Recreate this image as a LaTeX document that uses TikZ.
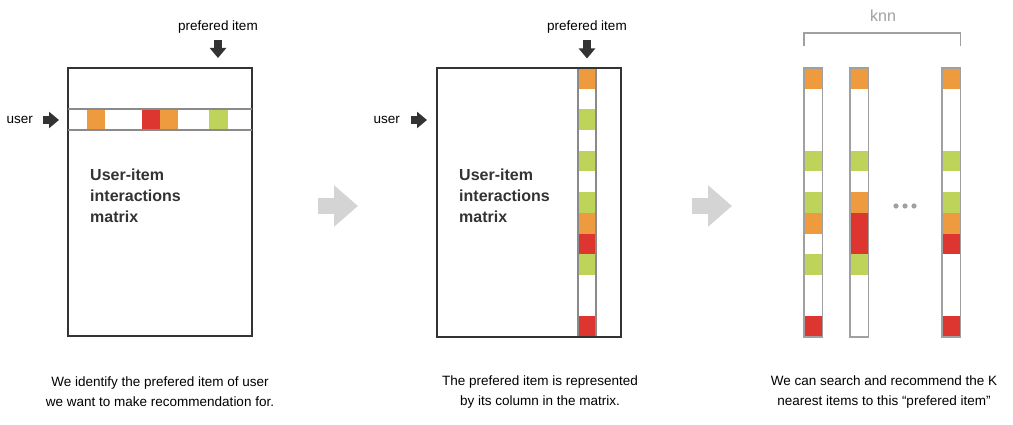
\documentclass[tikz,border=0pt]{standalone}
\usepackage{fontspec}
\setmainfont{Liberation Sans}
\usetikzlibrary{arrows.meta}
\definecolor{darkline}{HTML}{333333}
\definecolor{midline}{HTML}{8A8A8A}
\definecolor{lightline}{HTML}{A0A0A0}
\definecolor{bigarrowgray}{HTML}{D4D4D4}
\definecolor{cellO}{HTML}{EE9A3E}
\definecolor{cellR}{HTML}{DD3530}
\definecolor{cellG}{HTML}{BDD35A}
\definecolor{cellW}{HTML}{FFFFFF}
\tikzset{
  lbl/.style={inner sep=0pt, text=black, font=\fontsize{13.5}{16}\selectfont},
  caption/.style={inner sep=0pt, align=center, text=black,
    font=\fontsize{13.5}{20}\selectfont},
  mtext/.style={inner sep=0pt, align=left, text=darkline,
    font=\bfseries\fontsize{16}{21}\selectfont},
  darkarrow/.style={draw=darkline, line width=8pt,
    -{Triangle[width=16pt, length=10pt]}, color=darkline},
  bigarrow/.style={draw=bigarrowgray, line width=16pt,
    -{Triangle[width=40pt, length=24pt]}, color=bigarrowgray},
  matrixbox/.style={draw=darkline, line width=2pt, inner sep=0pt,
    minimum width=184pt, minimum height=268pt},
}
\begin{document}
\begin{tikzpicture}[x=1pt, y=-1pt]
\useasboundingbox[fill=white] (0,0) rectangle (1013,425);

%panel 1: the user row
\node[matrixbox](matrix1) at (160,202){};
\draw[midline, line width=1.5pt](68,109) -- (252,109);
\draw[midline, line width=1.5pt](68,130) -- (252,130);
\fill[cellO](87,110) rectangle (105,129);
\fill[cellR](142,110) rectangle (160,129);
\fill[cellO](160,110) rectangle (178,129);
\fill[cellG](209,110) rectangle (228,129);
\node[mtext, anchor=north west](mtext1) at (90,169){User-item\\interactions\\matrix};
\node[lbl](pref1) at (218,27){prefered item};
\node[lbl, anchor=east](user1) at (33,120){user};
\draw[darkarrow, shorten <=7pt, shorten >=9pt](pref1.south) -- (pref1 |- matrix1.north);
\draw[darkarrow, shorten <=10pt, shorten >=8pt](user1.east) -- (user1 -| matrix1.west);

\draw[bigarrow](318,206) -- (358,206);

%panel 2: the item column
\node[matrixbox](matrix2) at (529,202.5){};
\foreach \c [count=\i from 0] in {O,W,G,W,G,W,G,O,R,G,W,W,R}
  \fill[cell\c](578,68+20.69*\i) rectangle ++(18,20.69);
\draw[midline, line width=1.5pt](578,68) rectangle (596,337);
\node[matrixbox, fill=none](matrix2b) at (529,202.5){};
\node[mtext, anchor=north west](mtext2) at (459,169){User-item\\interactions\\matrix};
\node[lbl](pref2) at (587,27){prefered item};
\node[lbl, anchor=east](user2) at (400,120){user};
\draw[darkarrow, shorten <=7pt, shorten >=9pt](pref2.south) -- (pref2 |- matrix2.north);
\draw[darkarrow, shorten <=11pt, shorten >=9pt](user2.east) -- (user2 -| matrix2.west);

\draw[bigarrow](692,206) -- (732,206);

%panel 3: nearest columns
\foreach \x/\cells in {804/{O,W,W,W,G,W,G,O,W,G,W,W,R},
    850/{O,W,W,W,G,W,O,R,R,G,W,W,W},
    942/{O,W,W,W,G,W,G,O,R,W,W,W,R}}{
  \foreach \c [count=\i from 0] in \cells
    \fill[cell\c](\x,68+20.69*\i) rectangle ++(18.5,20.69);
  \draw[lightline, line width=1.5pt](\x,68) rectangle ++(18.5,269);
}
\foreach \x in {896,905,914}
  \fill[lightline](\x,206) circle (2.6);
\draw[lightline, line width=1.5pt](804,46) -- (804,33) -- (960.5,33) -- (960.5,46);
\node[lbl, text=lightline, font=\fontsize{16}{18}\selectfont](knn) at (883,16){knn};

%captions
\node[caption](text1) at (160,392){We identify the prefered item of user\\we want to make recommendation for.};
\node[caption](text2) at (540,392){The prefered item is represented\\by its column in the matrix.};
\node[caption](text3) at (884,392){We can search and recommend the K\\nearest items to this “prefered item”};
\end{tikzpicture}
\end{document}
